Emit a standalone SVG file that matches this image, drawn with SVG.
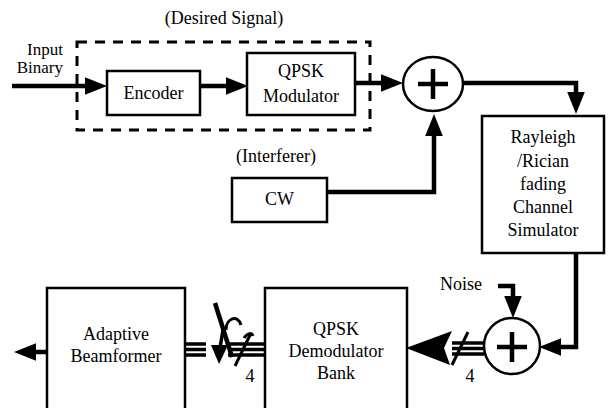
<svg xmlns="http://www.w3.org/2000/svg" width="609" height="408" viewBox="0 0 609 408" font-family="'Liberation Serif', 'DejaVu Serif', serif">
<style>
text{font-family:'Liberation Serif','DejaVu Serif',serif;font-size:18px;fill:#000;text-anchor:middle}
.box{fill:#fff;stroke:#000;stroke-width:2.5}
.wire{fill:none;stroke:#000;stroke-width:4.5}
.bus{fill:none;stroke:#000;stroke-width:3.5}
.sum{fill:#fff;stroke:#000;stroke-width:2.5}
.plus{stroke:#000;stroke-width:4.5;fill:none}
.dash{fill:none;stroke:#000;stroke-width:3;stroke-dasharray:10 8}
</style>
<defs>
<marker id="arr" markerUnits="userSpaceOnUse" markerWidth="22" markerHeight="18" viewBox="0 0 20 16" refX="10" refY="8" orient="auto">
<path d="M0,0 L20,8 L0,16 Z" fill="#000"/>
</marker>
</defs>
<rect width="609" height="408" fill="#fff"/>

<g id="desired-signal">
<rect class="dash" x="77" y="42" width="293" height="88"/>
<text x="224" y="24">(Desired Signal)</text>
</g>

<g id="input-label">
<text x="63" y="55" style="text-anchor:end;font-size:17px">Input</text>
<text x="63" y="73" style="text-anchor:end;font-size:17px">Binary</text>
</g>

<g id="encoder">
<rect class="box" x="107" y="71" width="93" height="44"/>
<text x="153.5" y="99">Encoder</text>
</g>

<g id="qpsk-mod">
<rect class="box" x="247" y="53" width="108" height="62"/>
<text x="301" y="77">QPSK</text>
<text x="301" y="102">Modulator</text>
</g>

<g id="summer1">
<ellipse class="sum" cx="433" cy="84" rx="30" ry="27"/>
<path class="plus" d="M418,84 H448 M433,69 V99"/>
</g>

<g id="cw">
<text x="276" y="162">(Interferer)</text>
<rect class="box" x="232" y="178" width="95" height="44"/>
<text x="279.5" y="205">CW</text>
</g>

<g id="channel">
<rect class="box" x="482" y="116" width="122" height="137"/>
<text x="543" y="143">Rayleigh</text>
<text x="543" y="167">/Rician</text>
<text x="543" y="190">fading</text>
<text x="543" y="213">Channel</text>
<text x="543" y="236">Simulator</text>
</g>

<g id="summer2">
<text x="461" y="290">Noise</text>
<circle class="sum" cx="512" cy="346" r="28"/>
<path class="plus" d="M497,347 H527 M512,332 V362"/>
</g>

<g id="qpsk-demod">
<rect class="box" x="265" y="288" width="142" height="130"/>
<text x="336" y="335">QPSK</text>
<text x="336" y="357">Demodulator</text>
<text x="336" y="379">Bank</text>
</g>

<g id="beamformer">
<rect class="box" x="47" y="288" width="138" height="130"/>
<text x="116" y="340">Adaptive</text>
<text x="116" y="362">Beamformer</text>
</g>

<g id="connectors">
<path class="wire" d="M12,86 H96" marker-end="url(#arr)"/>
<path class="wire" d="M200,86 H237" marker-end="url(#arr)"/>
<path class="wire" d="M355,83 H392" marker-end="url(#arr)"/>
<path class="wire" d="M463,83 H576 V103" marker-end="url(#arr)"/>
<path class="wire" d="M327,192 H434 V125" marker-end="url(#arr)"/>
<path class="wire" d="M576,253 V347 H550" marker-end="url(#arr)"/>
<path class="wire" d="M498,286 H513 V307" marker-end="url(#arr)"/>
<path class="wire" d="M47,352 H25" marker-end="url(#arr)"/>
<path class="bus" d="M452,343 H484 M452,348.5 H484 M452,354 H484"/>
<path d="M406,348 L452,331 L444,348 L450,365 Z" fill="#000"/>
<path d="M468,332 L452,365" stroke="#000" stroke-width="3" fill="none"/>
<text x="470" y="382">4</text>
<path class="bus" d="M185,344 H206 M185,349.5 H206 M185,355 H206"/>
<path class="bus" d="M228,344 H265 M228,349.5 H265 M228,355 H265"/>
<path d="M215,303 L232,357" stroke="#000" stroke-width="4.5" fill="none"/>
<path d="M223,330 L220,348" stroke="#000" stroke-width="3.5" fill="none"/>
<path d="M211,345 L228,345 L219,364 Z" fill="#000"/>
<path d="M226,330 C226,318 238,314 241,325" stroke="#000" stroke-width="3" fill="none"/>
<path d="M235,366 L251,333 M244,338 C248,332 252,333 253,336" stroke="#000" stroke-width="3" fill="none"/>
<text x="250" y="382">4</text>
</g>
</svg>
